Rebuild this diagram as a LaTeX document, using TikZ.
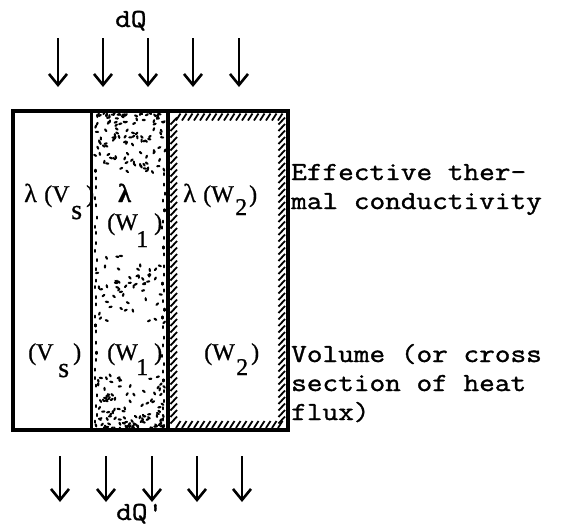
\documentclass[tikz,border=0pt]{standalone}
\usepackage{fontspec}
\newfontfamily\tw{Latin Modern Mono}[FakeStretch=1.17,FakeBold=1.3]
\newfontfamily\sr{Liberation Serif}[FakeBold=0.8]
\usetikzlibrary{arrows.meta}
\begin{document}
\begin{tikzpicture}[x=1pt,y=-1pt,
  flow/.style={line width=2.8pt,-{Straight Barb[length=11pt,width=18pt,line width=2.6pt]}},
  wall/.style={line width=3.8pt},
  lbl/.style={inner sep=0pt,anchor=base west,font=\sr\fontsize{24}{24}\selectfont},
  sub/.style={inner sep=0pt,anchor=base west,font=\sr\fontsize{28}{28}\selectfont},
  glbl/.style={inner sep=0pt,anchor=base west,font=\sr\fontsize{26}{26}\selectfont},
  txt/.style={inner sep=0pt,anchor=base west,font=\tw\fontsize{26}{29}\selectfont},
  hatch/.style={line width=1.8pt},
  speck/.style={line width=2.1pt,line cap=round}]
\useasboundingbox (0,0) rectangle (566,528);

% heat flux arrows
\foreach \x in {58,103,148,193,239} \draw[flow] (\x,38) -- (\x,87);
\foreach \x in {60,106,152,197,242} \draw[flow] (\x,456) -- (\x,502);
\node[txt] (dq) at (115,27) {dQ};
\node[txt] (dqp) at (116,520) {dQ\textquotesingle};

% stipple in the middle compartment
\pgfmathsetseed{4242}
\foreach \i in {1,...,115}{
  \pgfmathsetmacro{\px}{95+70*rnd}
  \pgfmathsetmacro{\py}{114+58*rnd^1.6}
  \pgfmathsetmacro{\an}{360*rnd}
  \draw[speck] (\px,\py) -- ++(\an:2.2);
}
\foreach \i in {1,...,55}{
  \pgfmathsetmacro{\px}{95+70*rnd}
  \pgfmathsetmacro{\py}{287+40*(rnd-rnd)}
  \pgfmathsetmacro{\an}{360*rnd}
  \draw[speck] (\px,\py) -- ++(\an:2.2);
}
\foreach \i in {1,...,105}{
  \pgfmathsetmacro{\px}{95+70*rnd}
  \pgfmathsetmacro{\py}{428-52*rnd^1.5}
  \pgfmathsetmacro{\an}{360*rnd}
  \draw[speck] (\px,\py) -- ++(\an:2.2);
}
\foreach \y in {170,179,...,425}{
  \pgfmathsetmacro{\ja}{rand}
  \pgfmathsetmacro{\jb}{rand}
  \draw[speck] (96+1.2*\ja,\y+2*\jb) -- ++(0,2);
  \draw[speck] (163.5-1.2*\jb,\y+4+2*\ja) -- ++(0,2);
}

% hatching in the right compartment
\foreach \x in {176,182,...,282} \draw[hatch] (\x,120.5) -- ++(4.5,-7);
\foreach \x in {176,182,...,282} \draw[hatch] (\x,428) -- ++(4.5,-7);
\foreach \y in {121,127.5,...,426} \draw[hatch] (170.5,\y+3.5) -- ++(6.5,-7);
\foreach \y in {121,127.5,...,426} \draw[hatch] (278.5,\y+3.5) -- ++(6.5,-7);

% walls
\draw[wall] (13,111) rectangle (288,430);
\draw[line width=3pt] (91,111) -- (91,430);
\draw[line width=4.5pt] (168,111) -- (168,430);

% labels inside
\node[glbl] (a1) at (24,202) {λ};
\node[lbl] (a2) at (44,202) {(V};
\node[sub] (a3) at (71,219) {s};
\node[lbl] (a4) at (86,202) {)};
\node[glbl,font=\sr\fontsize{26}{26}\selectfont\bfseries] (b1) at (118,202) {λ};
\node[lbl] (b2) at (107,230) {(W};
\node[lbl] (b3) at (136,247) {1};
\node[lbl] (b4) at (154,230) {)};
\node[glbl] (c1) at (183,202) {λ};
\node[lbl] (c2) at (203,202) {(W};
\node[lbl] (c3) at (235,215) {2};
\node[lbl] (c4) at (249,202) {)};
\node[lbl] (d2) at (28,360) {(V};
\node[sub] (d3) at (58,377) {s};
\node[lbl] (d4) at (73,360) {)};
\node[lbl] (e2) at (107,360) {(W};
\node[lbl] (e3) at (136,375) {1};
\node[lbl] (e4) at (154,360) {)};
\node[lbl] (f2) at (204,360) {(W};
\node[lbl] (f3) at (236,375) {2};
\node[lbl] (f4) at (251,360) {)};

% text on the right
\node[txt] (t1) at (291,180) {Effective ther-};
\node[txt] (t2) at (291,209) {mal conductivity};
\node[txt] (t3) at (291,362) {Volume (or cross};
\node[txt] (t4) at (291,391) {section of heat};
\node[txt] (t5) at (291,420) {flux)};
\end{tikzpicture}
\end{document}
